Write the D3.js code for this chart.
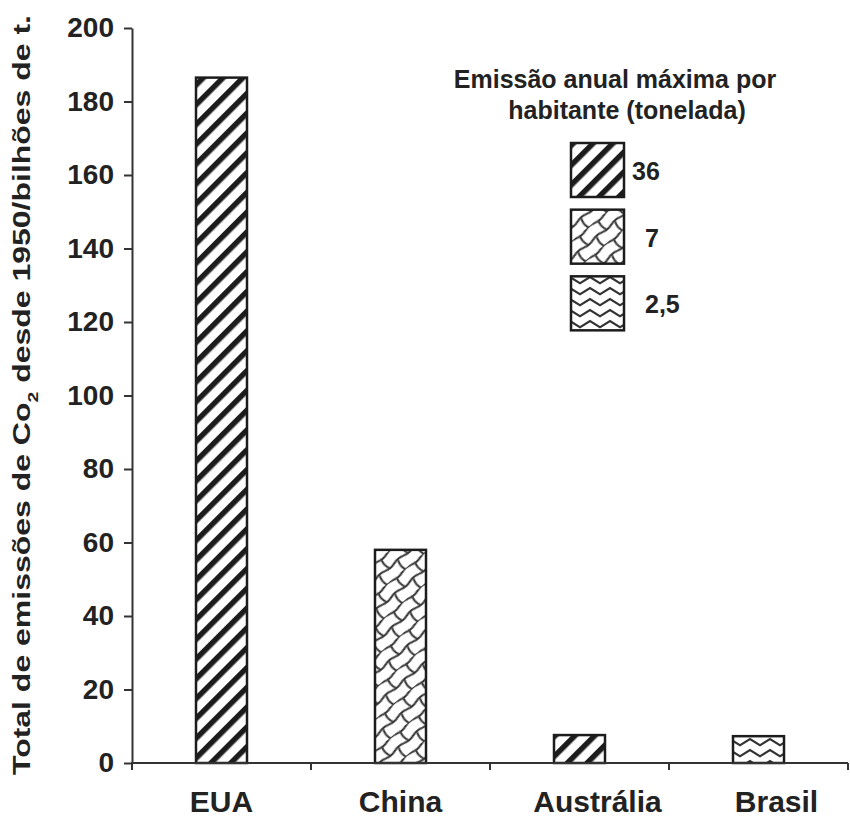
<!DOCTYPE html>
<html>
<head>
<meta charset="utf-8">
<script src="https://cdn.jsdelivr.net/npm/d3@7"></script>
<style>
  body { margin: 0; background: #fff; }
  text { font-family: "Liberation Sans", Arial, sans-serif; font-weight: bold; fill: #222; }
</style>
</head>
<body>
<div class="container"></div>
<script>
// data
var countries = ["EUA", "China", "Austrália", "Brasil"];
var totals = [186.5, 58, 7.6, 7.3];
var emissionClass = ["36", "7", "36", "2,5"];
var legendValues = ["36", "7", "2,5"];
var yTicks = [0, 20, 40, 60, 80, 100, 120, 140, 160, 180, 200];

var width = 850, height = 819;
var margin = { top: 28, right: 2, bottom: 56, left: 132 };

var svg = d3.select(".container")
    .append("svg")
    .attr("width", width)
    .attr("height", height);

var defs = svg.append("defs");
var ink = "#1c1c1c";

// 36 -> diagonal stripes
var p1 = defs.append("pattern")
    .attr("id", "pat-36")
    .attr("patternUnits", "userSpaceOnUse")
    .attr("width", 14).attr("height", 14)
    .attr("patternTransform", "rotate(45)");
p1.append("rect").attr("width", 14).attr("height", 14).attr("fill", "#fff");
p1.append("rect").attr("x", 0).attr("width", 5.5).attr("height", 14).attr("fill", ink);

// 7 -> diagonal weave
var p2 = defs.append("pattern")
    .attr("id", "pat-7")
    .attr("patternUnits", "userSpaceOnUse")
    .attr("width", 24).attr("height", 24)
    .attr("patternTransform", "rotate(-40)");
p2.append("rect").attr("width", 24).attr("height", 24).attr("fill", "#fff");
p2.append("path")
    .attr("d", "M0,1 Q6,3 12,1 T24,1 M0,13 Q6,15 12,13 T24,13 M5,1 Q2,7 5,13 M17,13 Q14,19 17,25")
    .attr("fill", "none")
    .attr("stroke", "#333")
    .attr("stroke-width", 2);

// 2,5 -> zigzag waves
var p3 = defs.append("pattern")
    .attr("id", "pat-2,5")
    .attr("patternUnits", "userSpaceOnUse")
    .attr("width", 20).attr("height", 11);
p3.append("rect").attr("width", 20).attr("height", 11).attr("fill", "#fff");
p3.append("path")
    .attr("d", "M-2,9.5 L10,2 L22,9.5")
    .attr("fill", "none")
    .attr("stroke", "#333")
    .attr("stroke-width", 2.2);

var x = d3.scaleBand()
    .domain(countries)
    .range([margin.left, width - margin.right])
    .paddingInner(0)
    .paddingOuter(0);

var y = d3.scaleLinear()
    .domain([0, 200])
    .range([height - margin.bottom, margin.top]);

var barW = 51;

// bars
svg.append("g")
    .selectAll("rect")
    .data(countries)
    .enter()
    .append("rect")
    .attr("x", function (d) { return x(d) + x.bandwidth() / 2 - barW / 2; })
    .attr("y", function (d, i) { return y(totals[i]); })
    .attr("width", barW)
    .attr("height", function (d, i) { return y(0) - y(totals[i]); })
    .attr("fill", function (d, i) { return "url(#pat-" + emissionClass[i] + ")"; })
    .attr("stroke", ink)
    .attr("stroke-width", 2.5);

// y axis
var yAxis = svg.append("g")
    .attr("transform", "translate(" + margin.left + ",0)")
    .call(d3.axisLeft(y).tickValues(yTicks).tickSize(8).tickPadding(10).tickSizeOuter(0));
yAxis.select(".domain").attr("stroke", "#333").attr("stroke-width", 2);
yAxis.selectAll(".tick line").attr("stroke", "#333").attr("stroke-width", 2);
yAxis.selectAll(".tick text")
    .style("font-size", "28px")
    .style("font-family", "'Liberation Sans', Arial, sans-serif")
    .style("font-weight", "bold")
    .attr("fill", "#222");

// x axis line + boundary ticks
svg.append("line")
    .attr("x1", margin.left - 1).attr("x2", width - margin.right)
    .attr("y1", y(0)).attr("y2", y(0))
    .attr("stroke", "#333").attr("stroke-width", 2);

var bounds = countries.map(function (d) { return x(d); }).concat([x(countries[countries.length - 1]) + x.bandwidth()]);
svg.append("g")
    .selectAll("line")
    .data(bounds)
    .enter()
    .append("line")
    .attr("x1", function (d) { return d; })
    .attr("x2", function (d) { return d; })
    .attr("y1", y(0))
    .attr("y2", y(0) + 7)
    .attr("stroke", "#333").attr("stroke-width", 2);

// category labels; the last two sit a bit right of their bars in the original
svg.append("g")
    .selectAll("text")
    .data(countries)
    .enter()
    .append("text")
    .attr("x", function (d, i) { return x(d) + x.bandwidth() / 2 + (i >= 2 ? 18 : 0); })
    .attr("y", 812)
    .attr("text-anchor", "middle")
    .style("font-size", "30px")
    .text(function (d) { return d; });

// y title
var yt = svg.append("text")
    .attr("transform", "translate(30," + 395 + ") rotate(-90)")
    .attr("text-anchor", "middle")
    .attr("textLength", 760)
    .attr("lengthAdjust", "spacingAndGlyphs")
    .style("font-size", "23px");
yt.append("tspan").text("Total de emissões de Co");
yt.append("tspan").attr("baseline-shift", "sub").style("font-size", "14px").text("2");
yt.append("tspan").text(" desde 1950/bilhões de t.");

// legend
svg.append("text")
    .attr("x", 615).attr("y", 88)
    .attr("text-anchor", "middle")
    .style("font-size", "25px")
    .text("Emissão anual máxima por");
svg.append("text")
    .attr("x", 627).attr("y", 119)
    .attr("text-anchor", "middle")
    .style("font-size", "25px")
    .text("habitante (tonelada)");

var legendY = d3.scaleBand()
    .domain(legendValues)
    .range([143, 335])
    .paddingInner(0.12);

var lg = svg.append("g")
    .selectAll("g")
    .data(legendValues)
    .enter()
    .append("g");

lg.append("rect")
    .attr("x", 571)
    .attr("y", function (d) { return legendY(d); })
    .attr("width", 53)
    .attr("height", 54)
    .attr("fill", function (d) { return "url(#pat-" + d + ")"; })
    .attr("stroke", ink)
    .attr("stroke-width", 2.5);

lg.append("text")
    .attr("x", function (d, i) { return i === 0 ? 632 : 645; })
    .attr("y", function (d) { return legendY(d) + 37; })
    .style("font-size", "25px")
    .text(function (d) { return d; });
</script>
</body>
</html>
